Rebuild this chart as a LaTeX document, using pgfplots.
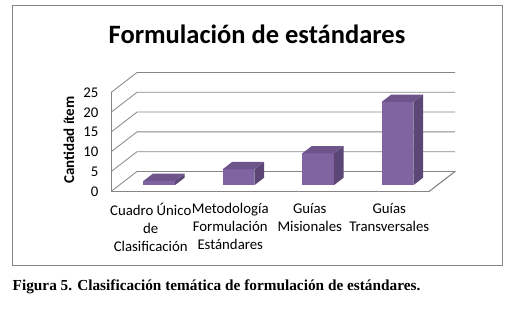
\documentclass[border=0pt]{standalone}
\usepackage{fontspec}
\setmainfont{Carlito}
\newfontfamily\capfont{Liberation Serif}
\usepackage{pgfplots}
\pgfplotsset{compat=1.18}
\definecolor{barfront}{HTML}{8064A2}
\definecolor{barside}{HTML}{5B4675}
\definecolor{bartop}{HTML}{6D558C}
\definecolor{gridgray}{HTML}{868686}
\newcommand{\threedbar}[3]{%
  \addplot3[fill=barfront, draw=none] coordinates {(#1,0.32,0) (#2,0.32,0) (#2,0.32,#3) (#1,0.32,#3)};
  \addplot3[fill=barside, draw=none] coordinates {(#2,0.32,0) (#2,0.69,0) (#2,0.69,#3) (#2,0.32,#3)};
  \addplot3[fill=bartop, draw=none] coordinates {(#1,0.32,#3) (#2,0.32,#3) (#2,0.69,#3) (#1,0.69,#3)};
}
\begin{document}
\begin{tikzpicture}
\useasboundingbox (0,0) rectangle (507bp,311bp);
\fill[white] (0,0) rectangle (507bp,311bp);
\draw[gridgray, line width=1bp] (12.5bp,45bp) rectangle (502.5bp,305bp);
\begin{axis}[
  at={(111bp,119.5bp)}, anchor=origin,
  x={(79.5bp,0bp)}, y={(26bp,20bp)}, z={(0bp,3.96bp)},
  xmin=0,xmax=4,ymin=0,ymax=1,zmin=0,zmax=25,
  enlargelimits=false,
  axis lines=left,
  axis line style={-, draw=gridgray, line width=0.8bp},
  xtick={0.5,1.5,2.5,3.5},
  xticklabels={{Cuadro Único\\de\\Clasificación},{Metodología\\Formulación\\Estándares},{Guías\\Misionales},{Guías\\Transversales}},
  ytick=\empty,
  ztick={0,5,...,25},
  major tick length=0pt,
  tick style={draw=none},
  /pgf/number format/assume math mode=true,
  tick label style={font=\fontsize{14.8bp}{18bp}\selectfont},
  xticklabel style={align=center, anchor=north, yshift=-8bp},
  zticklabel style={anchor=east, xshift=-9bp},
  clip=false,
]
\addplot3[gridgray, line width=0.8bp] coordinates {(0,0,0) (0,1,0) (4,1,0) (4,0,0)};
\pgfplotsinvokeforeach{5,10,15,20,25}{
  \addplot3[gridgray, line width=0.8bp] coordinates {(0,0,#1) (0,1,#1) (4,1,#1)};
}
\threedbar{0.3}{0.7}{1}
\threedbar{1.3}{1.7}{4}
\threedbar{2.3}{2.7}{8}
\threedbar{3.3}{3.7}{21}
\end{axis}
\node[anchor=base, font=\bfseries\fontsize{26.5bp}{30bp}\selectfont] at (257bp,267bp) {Formulación de estándares};
\node[rotate=90, font=\bfseries\fontsize{15bp}{18bp}\selectfont] at (69bp,171bp) {Cantidad ítem};
\node[anchor=base west, inner sep=0pt, font=\capfont\bfseries\fontsize{15.3bp}{18bp}\selectfont] at (12.5bp,20.5bp) {Figura 5. Clasificación temática de formulación de estándares.};
\end{tikzpicture}
\end{document}
